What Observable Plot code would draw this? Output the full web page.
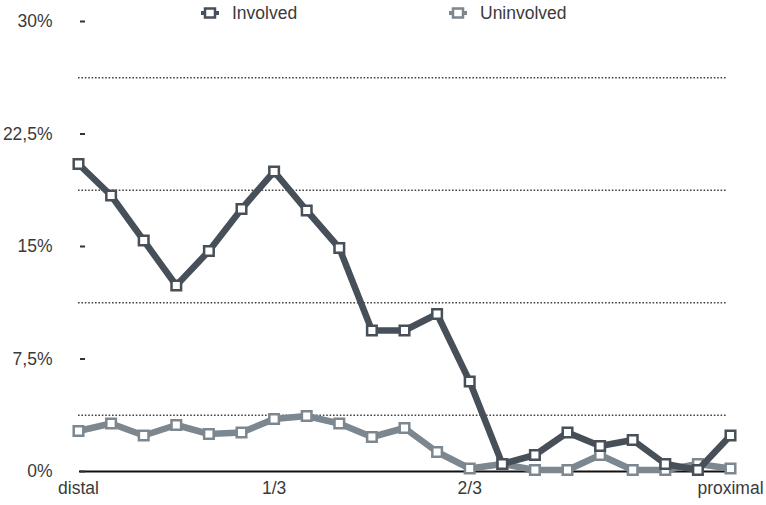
<!DOCTYPE html>
<html>
<head>
<meta charset="utf-8">
<script src="https://cdn.jsdelivr.net/npm/d3@7"></script>
<script src="https://cdn.jsdelivr.net/npm/@observablehq/plot@0.6"></script>
<style>
  html, body { margin: 0; padding: 0; background: #fff; }
  #wrap { position: relative; width: 766px; height: 505px; font-family: "Liberation Sans", Arial, sans-serif; }
  .leg { position: absolute; top: 2px; display: flex; align-items: center; font-size: 17.5px; color: #3a3a3a; }
  .leg svg { margin-right: 11px; }
</style>
</head>
<body>
<div id="wrap">
  <div class="leg" style="left:199px"><svg width="22" height="22"><line x1="2" y1="11" x2="20" y2="11" stroke="#474f58" stroke-width="4"/><rect x="6" y="6.5" width="10" height="9" fill="#fff" stroke="#474f58" stroke-width="2.5"/></svg>Involved</div>
  <div class="leg" style="left:447px"><svg width="22" height="22"><line x1="2" y1="11" x2="20" y2="11" stroke="#7c8790" stroke-width="4"/><rect x="6" y="6.5" width="10" height="9" fill="#fff" stroke="#7c8790" stroke-width="2.5"/></svg>Uninvolved</div>
</div>
<script>
// Data
const segment = d3.range(21);
const involved =   [20.5, 18.4, 15.4, 12.4, 14.7, 17.5, 20.0, 17.4, 14.9, 9.4, 9.4, 10.5, 6.0, 0.5, 1.1, 2.6, 1.7, 2.1, 0.5, 0.1, 2.4];
const uninvolved = [2.7, 3.2, 2.4, 3.1, 2.5, 2.6, 3.5, 3.7, 3.2, 2.3, 2.9, 1.3, 0.2, 0.5, 0.1, 0.1, 1.1, 0.1, 0.1, 0.5, 0.2];
const yTicks = [0, 7.5, 15, 22.5, 30];
const yTickLabels = ["0%", "7,5%", "15%", "22,5%", "30%"];
const gridLines = [3.75, 11.25, 18.75, 26.25];
const xTicks = [0, 6, 12, 20];
const xTickLabels = ["distal", "1/3", "2/3", "proximal"];

const invData = segment.map((s, i) => ({s, v: involved[i]}));
const uninvData = segment.map((s, i) => ({s, v: uninvolved[i]}));
const yLab = new Map(yTicks.map((t, i) => [t, yTickLabels[i]]));
const xLab = new Map(xTicks.map((t, i) => [t, xTickLabels[i]]));

const cInv = "#474f58";
const cUn = "#7c8790";

const chart = Plot.plot({
  width: 766,
  height: 505,
  marginLeft: 78,
  marginRight: 36,
  marginTop: 21,
  marginBottom: 34,
  style: {fontFamily: "'Liberation Sans', Arial, sans-serif", fontSize: "17.5px", color: "#3a3a3a", background: "transparent"},
  x: {type: "linear", domain: [0, 20]},
  y: {domain: [0, 30]},
  marks: [
    Plot.ruleY(gridLines, {stroke: "#444", strokeWidth: 1.6, strokeDasharray: "1.6,1.8", insetRight: 3}),
    Plot.ruleY([0], {stroke: "#111", strokeWidth: 2, insetLeft: 1, insetRight: 3}),
    Plot.ruleY(yTicks, {stroke: "#333", strokeWidth: 2, insetLeft: 2, insetRight: 645}),
    Plot.axisY(yTicks, {tickSize: 0, tickPadding: 26, tickFormat: d => yLab.get(d), fontSize: 17.5, label: null}),
    Plot.axisX(xTicks, {tickSize: 0, tickPadding: 10, tickFormat: d => xLab.get(d), fontSize: 17.5, label: null}),
    Plot.line(uninvData, {x: "s", y: "v", stroke: cUn, strokeWidth: 6.5, strokeLinejoin: "miter"}),
    Plot.dot(uninvData, {x: "s", y: "v", symbol: "square", r: 5.4, stroke: cUn, strokeWidth: 2.5, fill: "#fff"}),
    Plot.line(invData, {x: "s", y: "v", stroke: cInv, strokeWidth: 6.5, strokeLinejoin: "miter"}),
    Plot.dot(invData, {x: "s", y: "v", symbol: "square", r: 5.4, stroke: cInv, strokeWidth: 2.5, fill: "#fff"})
  ]
});
chart.style.position = "absolute";
chart.style.left = "0";
chart.style.top = "0";
const wrap = document.getElementById("wrap");
wrap.insertBefore(chart, wrap.firstChild);
</script>
</body>
</html>
